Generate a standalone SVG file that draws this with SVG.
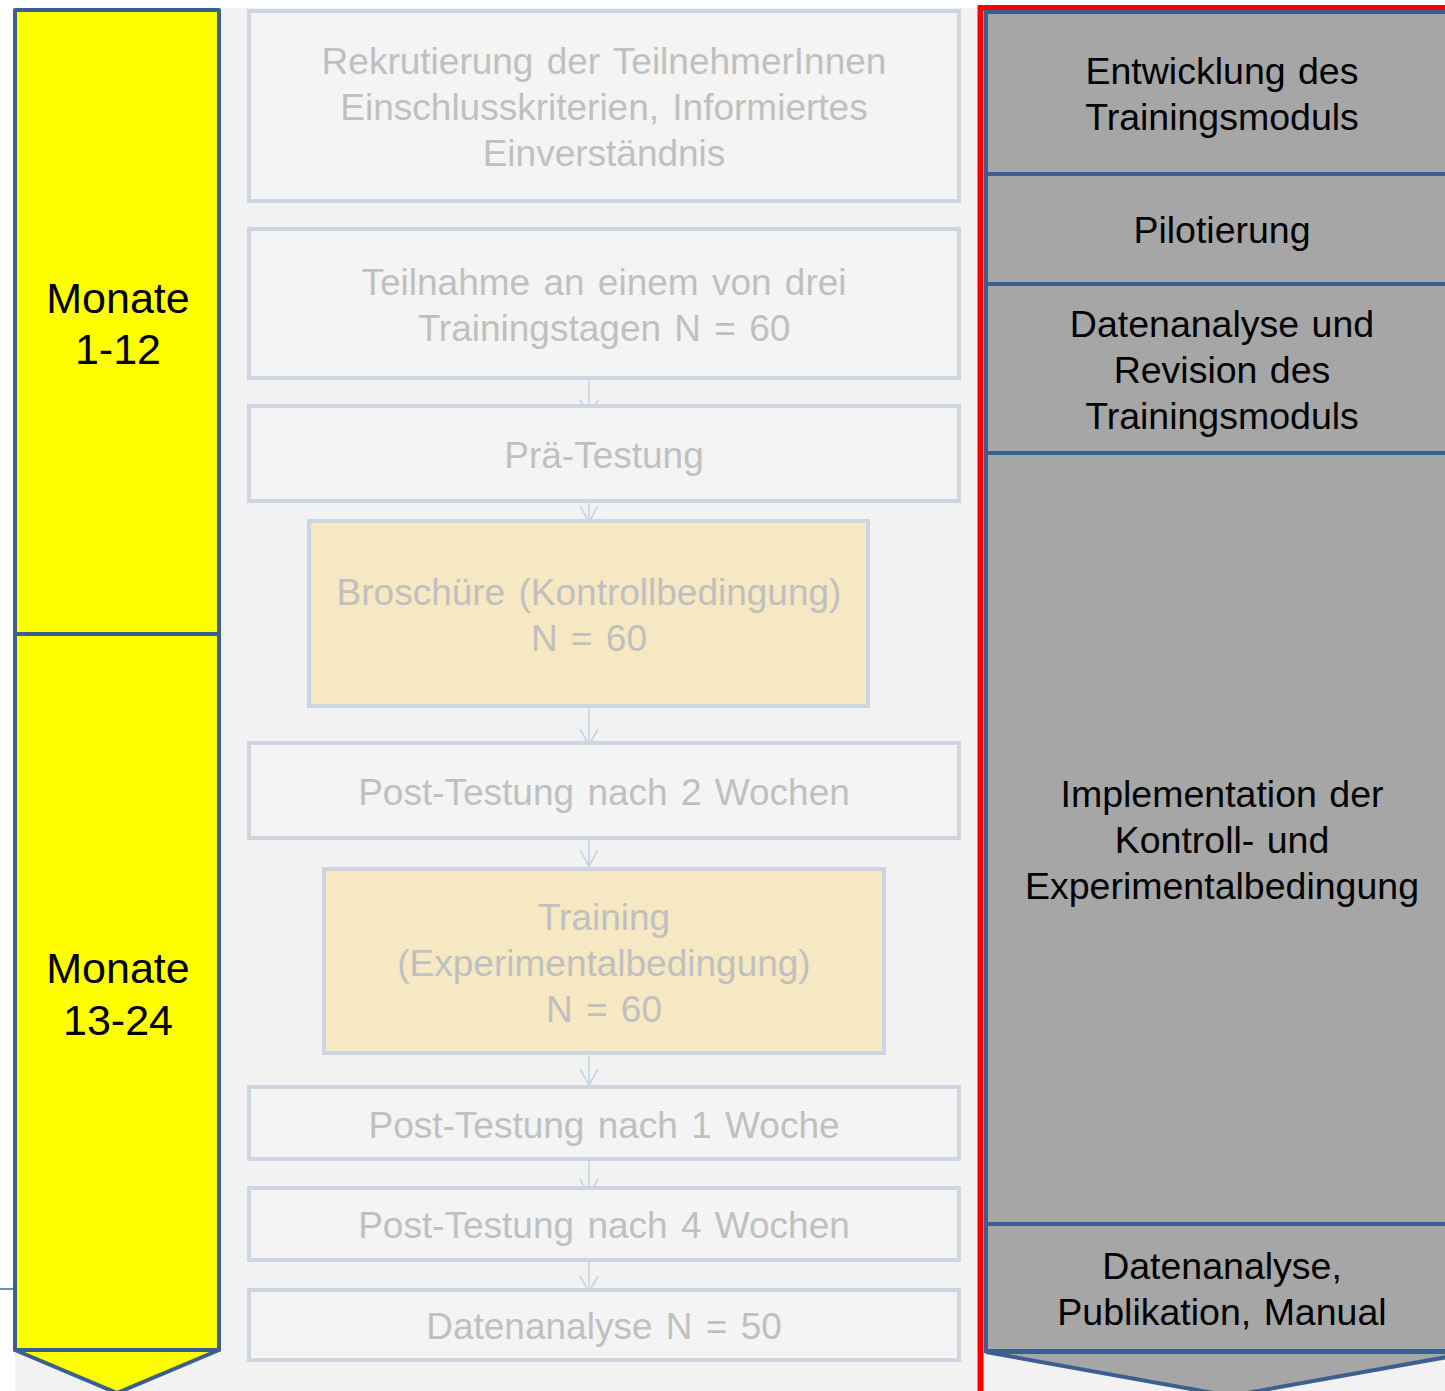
<svg xmlns="http://www.w3.org/2000/svg" width="1445" height="1391" viewBox="0 0 1445 1391">
<style>
  text { font-family: "Liberation Sans", Arial, sans-serif; text-anchor: middle; }
  .mon { font-size: 43px; fill: #000; }
  .blk { font-size: 37.5px; fill: #000; word-spacing: 2px; }
  .gry { font-size: 37px; fill: #c0c0c0; word-spacing: 3px; }
  .box { fill: #f4f4f4; stroke: #cdd6e0; stroke-width: 4; }
  .ybox { fill: #f5e8c2; stroke: #cdd6e0; stroke-width: 4; }
  .col { fill: #ffff00; stroke: #3b5f8e; stroke-width: 4; stroke-linejoin: round; }
  .gcol { fill: #a6a6a6; stroke: #3b5f8e; stroke-width: 4; }
  .conn { stroke: #c5d5e6; stroke-width: 1.6; fill: none; }
</style>
<rect x="0" y="0" width="1445" height="1391" fill="#ffffff"/>
<rect x="15" y="8" width="1430" height="1383" fill="#f2f2f2"/>
<line x1="0" y1="1289" x2="14" y2="1289" stroke="#3b6e8e" stroke-width="1.5"/>

<g id="months">
  <path class="col" d="M15 1350 L117 1393 L219 1350 Z"/>
  <rect class="col" x="15" y="10" width="204" height="624"/>
  <rect class="col" x="15" y="634" width="204" height="716"/>
  <text class="mon" x="118" y="313">Monate</text>
  <text class="mon" x="118" y="364">1-12</text>
  <text class="mon" x="118" y="983">Monate</text>
  <text class="mon" x="118" y="1035">13-24</text>
</g>

<g id="phases">
  <rect x="980.5" y="8" width="480" height="1400" fill="none" stroke="#ff0000" stroke-width="6"/>
  <path class="gcol" d="M986 1352 L1230 1396 L1475 1352 Z"/>
  <rect class="gcol" x="986" y="12" width="489" height="162"/>
  <rect class="gcol" x="986" y="174" width="489" height="110"/>
  <rect class="gcol" x="986" y="284" width="489" height="169"/>
  <rect class="gcol" x="986" y="453" width="489" height="771"/>
  <rect class="gcol" x="986" y="1224" width="489" height="127"/>
  <text class="blk" x="1222" y="84">Entwicklung des</text>
  <text class="blk" x="1222" y="130">Trainingsmoduls</text>
  <text class="blk" x="1222" y="243">Pilotierung</text>
  <text class="blk" x="1222" y="337">Datenanalyse und</text>
  <text class="blk" x="1222" y="383">Revision des</text>
  <text class="blk" x="1222" y="429">Trainingsmoduls</text>
  <text class="blk" x="1222" y="807">Implementation der</text>
  <text class="blk" x="1222" y="853">Kontroll- und</text>
  <text class="blk" x="1222" y="899">Experimentalbedingung</text>
  <text class="blk" x="1222" y="1279">Datenanalyse,</text>
  <text class="blk" x="1222" y="1325">Publikation, Manual</text>
</g>

<g id="connectors">
  <path class="conn" d="M589 379 L589 416"/><path class="conn" d="M580 400 L589 416 L598 400"/>
  <path class="conn" d="M589 489 L589 522"/><path class="conn" d="M580 506 L589 522 L598 506"/>
  <path class="conn" d="M589 708 L589 745"/><path class="conn" d="M580 729 L589 745 L598 729"/>
  <path class="conn" d="M589 830 L589 866"/><path class="conn" d="M580 850 L589 866 L598 850"/>
  <path class="conn" d="M589 1048 L589 1085"/><path class="conn" d="M580 1069 L589 1085 L598 1069"/>
  <path class="conn" d="M589 1158 L589 1195"/><path class="conn" d="M580 1179 L589 1195 L598 1179"/>
  <path class="conn" d="M589 1253 L589 1292"/><path class="conn" d="M580 1276 L589 1292 L598 1276"/>
</g>

<g id="n1"><rect class="box" x="249" y="11" width="710" height="190"/>
  <text class="gry" x="604" y="74">Rekrutierung der TeilnehmerInnen</text>
  <text class="gry" x="604" y="120">Einschlusskriterien, Informiertes</text>
  <text class="gry" x="604" y="166">Einverständnis</text></g>
<g id="n2"><rect class="box" x="249" y="229" width="710" height="149"/>
  <text class="gry" x="604" y="295">Teilnahme an einem von drei</text>
  <text class="gry" x="604" y="341">Trainingstagen N = 60</text></g>
<g id="n3"><rect class="box" x="249" y="406" width="710" height="95"/>
  <text class="gry" x="604" y="468">Prä-Testung</text></g>
<g id="n4"><rect class="ybox" x="309" y="521" width="559" height="185"/>
  <text class="gry" x="589" y="605">Broschüre (Kontrollbedingung)</text>
  <text class="gry" x="589" y="651">N = 60</text></g>
<g id="n5"><rect class="box" x="249" y="743" width="710" height="95"/>
  <text class="gry" x="604" y="805">Post-Testung nach 2 Wochen</text></g>
<g id="n6"><rect class="ybox" x="324" y="869" width="560" height="184"/>
  <text class="gry" x="604" y="930">Training</text>
  <text class="gry" x="604" y="976">(Experimentalbedingung)</text>
  <text class="gry" x="604" y="1022">N = 60</text></g>
<g id="n7"><rect class="box" x="249" y="1087" width="710" height="72"/>
  <text class="gry" x="604" y="1138">Post-Testung nach 1 Woche</text></g>
<g id="n8"><rect class="box" x="249" y="1188" width="710" height="72"/>
  <text class="gry" x="604" y="1238">Post-Testung nach 4 Wochen</text></g>
<g id="n9"><rect class="box" x="249" y="1290" width="710" height="70"/>
  <text class="gry" x="604" y="1339">Datenanalyse N = 50</text></g>
</svg>
